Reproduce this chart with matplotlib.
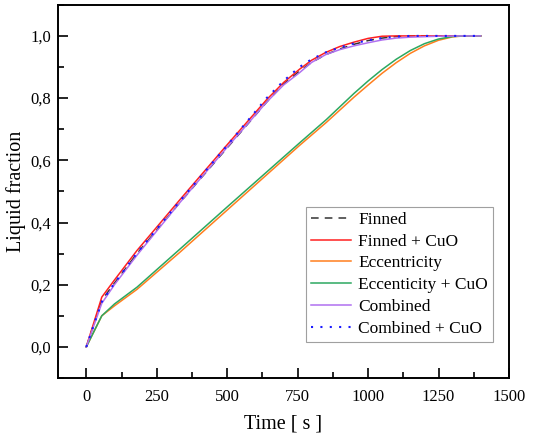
import matplotlib

matplotlib.use("Agg")
import matplotlib.pyplot as plt
from matplotlib.ticker import MultipleLocator, FuncFormatter

plt.rcParams["font.family"] = ["Liberation Serif", "DejaVu Serif"]

# time [s] and liquid fraction
t_fin = [0, 55, 100, 180, 333, 500, 640, 700, 757, 800, 850, 900, 950, 1000, 1050, 1100, 1150, 1250, 1330, 1400]
finned = [0, 0.150, 0.205, 0.300, 0.465, 0.640, 0.787, 0.845, 0.887, 0.915, 0.940, 0.958, 0.973, 0.985, 0.993,
          0.998, 1.0, 1.0, 1.0, 1.0]
finned_cuo = [0, 0.160, 0.215, 0.310, 0.474, 0.650, 0.795, 0.850, 0.893, 0.922, 0.947, 0.966, 0.980, 0.992, 0.999,
              1.0, 1.0, 1.0, 1.0, 1.0]
combined = [0, 0.140, 0.200, 0.295, 0.465, 0.642, 0.787, 0.842, 0.882, 0.915, 0.940, 0.956, 0.968, 0.978, 0.987,
            0.993, 0.996, 0.999, 1.0, 1.0]
combined_cuo = [0, 0.145, 0.205, 0.302, 0.470, 0.648, 0.800, 0.855, 0.900, 0.925, 0.947, 0.963, 0.976, 0.986, 0.993,
                0.998, 1.0, 1.0, 1.0, 1.0]

t_ecc = [0, 55, 100, 180, 333, 500, 757, 852, 950, 1000, 1050, 1100, 1150, 1200, 1250, 1300, 1340, 1400]
eccentricity = [0, 0.100, 0.132, 0.185, 0.305, 0.440, 0.648, 0.722, 0.803, 0.842, 0.880, 0.914, 0.944, 0.968,
                0.986, 0.997, 1.0, 1.0]
eccentricity_cuo = [0, 0.100, 0.138, 0.192, 0.315, 0.450, 0.656, 0.731, 0.815, 0.855, 0.892, 0.925, 0.953, 0.975,
                    0.990, 0.998, 1.0, 1.0]

fig = plt.figure(figsize=(5.38, 4.38), dpi=100)
ax = fig.add_axes([0.108, 0.137, 0.838, 0.852])

ax.plot(t_fin, finned, color="#333333", ls=(0, (5, 4)), lw=1.1, label="Finned")
ax.plot(t_fin, finned_cuo, color="#ff2020", lw=1.1, label="Finned + CuO")
ax.plot(t_ecc, eccentricity, color="#ff7f1e", lw=1.1, label="Eccentricity")
ax.plot(t_ecc, eccentricity_cuo, color="#2ca860", lw=1.1, label="Eccenticity + CuO")
ax.plot(t_fin, combined, color="#b070f0", lw=1.1, label="Combined")
ax.plot(t_fin, combined_cuo, color="#1a1aff", ls=(0, (1, 3.5)), lw=1.5, label="Combined + CuO")

ax.set_xlim(-100, 1500)
ax.set_ylim(-0.1, 1.1)
ax.xaxis.set_major_locator(MultipleLocator(250))
ax.xaxis.set_minor_locator(MultipleLocator(125))
ax.yaxis.set_major_locator(MultipleLocator(0.2))
ax.yaxis.set_minor_locator(MultipleLocator(0.1))
ax.yaxis.set_major_formatter(FuncFormatter(lambda v, p: f"{v:.1f}".replace(".", ",")))
ax.tick_params(which="both", direction="in", top=False, right=False, labelsize=12, width=1.2)
ax.tick_params(axis="x", pad=8)
ax.tick_params(axis="y", pad=5)
ax.tick_params(which="major", length=7)
ax.tick_params(which="minor", length=4)
for s in ax.spines.values():
    s.set_linewidth(1.4)

ax.set_xlabel("Time [ s ]", fontsize=14.5, labelpad=7)
ax.set_ylabel("Liquid fraction", fontsize=14.5, labelpad=3)

leg = ax.legend(loc="lower right", bbox_to_anchor=(0.965, 0.097), fontsize=12.5, handlelength=2.3,
                handletextpad=0.4, labelspacing=0.32, borderpad=0.3, borderaxespad=0, fancybox=False)
leg.get_frame().set_edgecolor("#888888")
leg.get_frame().set_linewidth(0.8)

fig.savefig("out.png", dpi=100)
